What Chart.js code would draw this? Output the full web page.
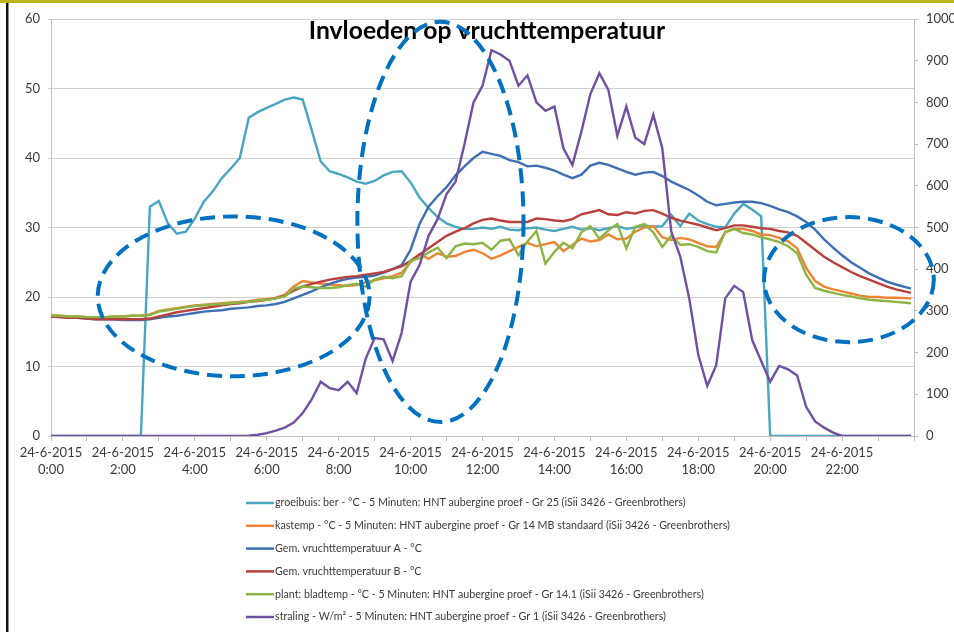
<!DOCTYPE html>
<html>
<head>
<meta charset="utf-8">
<title>Invloeden op vruchttemperatuur</title>
<script src="https://cdn.jsdelivr.net/npm/chart.js@4.4.1/dist/chart.umd.min.js"></script>
<style>
  body { margin: 0; background: #fff; }
  canvas { display: block; }
</style>
</head>
<body>
<canvas id="chart" width="954" height="632"></canvas>
<script>
// time of day in hours, 15 minute steps, last sample 23:55
const times = [];
for (let k = 0; k < 96; k++) times.push(k < 95 ? k * 0.25 : 23 + 55 / 60);

const dateLabel = "24-6-2015";
const hourLabels = ["0:00", "2:00", "4:00", "6:00", "8:00", "10:00", "12:00", "14:00", "16:00", "18:00", "20:00", "22:00"];
const tempTicks = [0, 10, 20, 30, 40, 50, 60];
const radTicks = [0, 100, 200, 300, 400, 500, 600, 700, 800, 900, 1000];

const seriesNames = [
  "groeibuis: ber - °C - 5 Minuten: HNT aubergine proef - Gr 25 (iSii 3426 - Greenbrothers)",
  "kastemp - °C - 5 Minuten: HNT aubergine proef - Gr 14 MB standaard (iSii 3426 - Greenbrothers)",
  "Gem. vruchttemperatuur A - °C",
  "Gem. vruchttemperatuur B - °C",
  "plant: bladtemp - °C - 5 Minuten: HNT aubergine proef - Gr 14.1 (iSii 3426 - Greenbrothers)",
  "straling - W/m² - 5 Minuten: HNT aubergine proef - Gr 1 (iSii 3426 - Greenbrothers)"
];

const groeibuis = [
  0, 0, 0, 0, 0, 0, 0, 0, 0, 0, 0, 33, 33.8, 30.6, 29.1, 29.4,
  31.3, 33.7, 35.2, 37.1, 38.5, 40.0, 45.8, 46.6, 47.2, 47.8, 48.4, 48.7, 48.4, 44.0, 39.5, 38.1,
  37.7, 37.2, 36.6, 36.3, 36.7, 37.5, 38.0, 38.1, 36.5, 34.3, 32.8, 31.5, 30.6, 30.1, 29.8, 29.8,
  30.0, 29.8, 30.1, 29.7, 29.6, 29.9, 30.0, 29.7, 29.5, 29.8, 30.1, 29.7, 29.9, 29.6, 29.9, 30.2,
  29.8, 30.0, 30.3, 30.1, 30.2, 31.8, 30.2, 32.0, 31.0, 30.5, 30.1, 30.0, 32.0, 33.4, 32.6, 31.6,
  0, 0, 0, 0, 0, 0, 0, 0, 0, 0, 0, 0, 0, 0, 0, 0
];
const kastemp = [
  17.4, 17.3, 17.2, 17.2, 17.1, 17.1, 17.1, 17.2, 17.2, 17.3, 17.3, 17.5, 18.0, 18.2, 18.4, 18.6,
  18.8, 18.9, 19.0, 19.1, 19.2, 19.3, 19.4, 19.6, 19.7, 19.9, 20.3, 21.5, 22.3, 22.1, 21.9, 21.8,
  21.7, 21.6, 21.7, 22.1, 22.4, 22.7, 23.0, 23.5, 25.0, 26.2, 25.5, 26.3, 25.8, 25.9, 26.5, 26.8,
  26.3, 25.5, 26.0, 26.6, 27.2, 27.8, 27.3, 27.6, 27.9, 26.6, 27.5, 28.4, 28.0, 28.2, 29.0, 28.3,
  28.4, 29.4, 30.0, 30.2, 28.6, 28.2, 28.5, 28.3, 27.8, 27.3, 27.2, 29.3, 29.8, 29.8, 29.5, 29.0,
  28.9, 28.5, 28.0, 27.0, 24.2, 22.3, 21.5, 21.1, 20.8, 20.5, 20.2, 20.0, 20.0, 19.9, 19.9, 19.8
];
const vruchtA = [
  17.2, 17.1, 17.0, 17.0, 16.9, 16.8, 16.8, 16.8, 16.7, 16.7, 16.7, 16.8, 17.0, 17.2, 17.3, 17.5,
  17.7, 17.9, 18.0, 18.1, 18.3, 18.4, 18.5, 18.7, 18.8, 19.0, 19.3, 19.8, 20.3, 20.8, 21.4, 21.9,
  22.3, 22.6, 22.8, 22.9, 23.1, 23.5, 24.0, 24.6, 26.8, 30.5, 33.0, 34.5, 35.8, 37.5, 38.8, 40.0,
  40.9, 40.6, 40.3, 39.7, 39.4, 38.8, 38.9, 38.6, 38.2, 37.6, 37.1, 37.6, 38.9, 39.3, 39.0, 38.5,
  38.0, 37.6, 37.9, 38.0, 37.4, 36.6, 36.0, 35.4, 34.6, 33.7, 33.2, 33.4, 33.6, 33.7, 33.7, 33.5,
  33.1, 32.6, 32.2, 31.6, 30.8, 29.7, 28.3, 27.1, 26.0, 25.0, 24.2, 23.4, 22.8, 22.2, 21.8, 21.2
];
const vruchtB = [
  17.2, 17.1, 17.0, 17.0, 16.9, 16.8, 16.8, 16.8, 16.8, 16.8, 16.8, 16.9, 17.2, 17.5, 17.8, 18.0,
  18.2, 18.4, 18.6, 18.8, 19.0, 19.1, 19.3, 19.4, 19.6, 19.8, 20.2, 20.9, 21.5, 21.9, 22.2, 22.5,
  22.7, 22.9, 23.0, 23.2, 23.4, 23.6, 24.0, 24.4, 25.2, 26.1, 27.0, 27.9, 28.8, 29.4, 29.9, 30.6,
  31.1, 31.3, 31.0, 30.8, 30.8, 30.8, 31.3, 31.2, 31.0, 30.9, 31.2, 31.9, 32.2, 32.5, 31.9, 31.8,
  32.2, 32.0, 32.4, 32.5, 32.0, 31.4, 31.0, 30.7, 30.4, 30.0, 29.6, 29.9, 30.3, 30.3, 30.1, 29.9,
  29.8, 29.5, 29.3, 28.8, 27.8, 26.8, 25.8, 25.0, 24.3, 23.6, 23.0, 22.5, 22.0, 21.5, 21.1, 20.6
];
const bladtemp = [
  17.3, 17.3, 17.2, 17.2, 17.1, 17.1, 17.1, 17.2, 17.2, 17.3, 17.3, 17.4, 17.9, 18.1, 18.3, 18.5,
  18.7, 18.8, 18.9, 19.0, 19.1, 19.2, 19.3, 19.5, 19.6, 19.8, 20.1, 21.2, 21.5, 21.4, 21.3, 21.3,
  21.4, 21.7, 21.9, 21.5, 22.5, 22.9, 22.7, 23.0, 25.2, 25.6, 26.4, 27.1, 25.6, 27.3, 27.7, 27.6,
  27.8, 26.8, 28.1, 28.3, 26.0, 28.0, 29.5, 24.8, 26.5, 27.8, 27.0, 29.3, 30.2, 28.4, 29.6, 30.5,
  27.0, 30.1, 30.5, 29.3, 27.2, 28.8, 27.5, 27.6, 27.2, 26.6, 26.4, 29.4, 29.8, 29.2, 29.0, 28.6,
  28.3, 27.9, 27.3, 26.3, 23.2, 21.3, 20.9, 20.6, 20.3, 20.1, 19.8, 19.6, 19.5, 19.4, 19.3, 19.1
];
const straling = [
  0, 0, 0, 0, 0, 0, 0, 0, 0, 0, 0, 0, 0, 0, 0, 0,
  0, 0, 0, 0, 0, 0, 1, 3, 7, 13, 20, 32, 55, 88, 130, 115,
  110, 130, 103, 185, 235, 232, 180, 247, 370, 410, 480, 520, 580, 610, 700, 800,
  840, 925, 915, 900, 840, 865, 800, 780, 790, 690, 650, 730, 820, 870, 830, 720,
  790, 715, 700, 770, 690, 490, 430, 330, 195, 120, 170, 330, 360, 345, 230, 180,
  130, 168, 160, 145, 70, 35, 20, 8, 0, 0, 0, 0, 0, 0, 0, 0
];

const seriesValues = [groeibuis, kastemp, vruchtA, vruchtB, bladtemp, straling];
const seriesColors = ["#4aa5c1", "#ee8434", "#3f6fb3", "#b9403c", "#8bb443", "#7050a0"];
const seriesAxis = ["y", "y", "y", "y", "y", "y1"];

// dashed ellipses: centre and radii in data units (hours, °C)
const ellipses = [
  { h: 5.08, t: 20.1, rh: 3.78, rt: 11.5 },
  { h: 10.83, t: 30.8, rh: 2.31, rt: 28.8 },
  { h: 22.19, t: 22.5, rh: 2.36, rt: 9.0 }
];

const txt = "#3a3a3a";
const font = "Lato, 'Open Sans', sans-serif";

const pagePlugin = {
  id: "page",
  beforeDraw(chart) {
    const ctx = chart.ctx;
    ctx.save();
    ctx.fillStyle = "#fff";
    ctx.fillRect(0, 0, chart.width, chart.height);
    ctx.fillStyle = "#bdb41e";
    ctx.fillRect(0, 0, chart.width, 3);
    ctx.fillStyle = "#111";
    ctx.fillRect(6, 3, 2.5, chart.height - 3);
    ctx.restore();
  },
  afterDraw(chart) {
    const ctx = chart.ctx;
    const xs = chart.scales.x, ys = chart.scales.y;
    ctx.save();
    // title
    ctx.fillStyle = "#000";
    ctx.font = "bold 22px " + font;
    const title = "Invloeden op vruchttemperatuur";
    const w = ctx.measureText(title).width;
    const size = 22 * 357 / w;
    ctx.font = "bold " + size.toFixed(1) + "px " + font;
    ctx.textAlign = "center";
    ctx.textBaseline = "alphabetic";
    ctx.fillText(title, 487, 39);

    // dashed ellipses
    ctx.strokeStyle = "#0070c0";
    ctx.lineWidth = 4;
    ctx.setLineDash([15, 8]);
    ellipses.forEach(e => {
      const cx = xs.getPixelForValue(e.h);
      const cy = ys.getPixelForValue(e.t);
      const rx = Math.abs(xs.getPixelForValue(e.h + e.rh) - cx);
      const ry = Math.abs(ys.getPixelForValue(e.t + e.rt) - cy);
      ctx.beginPath();
      ctx.ellipse(cx, cy, rx, ry, 0, 0, Math.PI * 2);
      ctx.stroke();
    });
    ctx.setLineDash([]);

    // legend, one item per row
    ctx.font = "11px " + font;
    const longest = ctx.measureText(seriesNames[1]).width;
    const lsize = 11 * 455 / longest;
    ctx.font = lsize.toFixed(2) + "px " + font;
    ctx.textAlign = "left";
    ctx.textBaseline = "middle";
    chart.data.datasets.forEach((ds, i) => {
      const y = 503 + i * 22.8;
      ctx.strokeStyle = ds.borderColor;
      ctx.lineWidth = 2.5;
      ctx.beginPath();
      ctx.moveTo(246, y);
      ctx.lineTo(274, y);
      ctx.stroke();
      ctx.fillStyle = txt;
      ctx.fillText(ds.label, 275, y);
    });
    ctx.restore();
  }
};

new Chart(document.getElementById("chart"), {
  type: "line",
  data: {
    datasets: seriesValues.map((vals, i) => ({
      label: seriesNames[i],
      data: times.map((t, k) => ({ x: t, y: vals[k] })),
      borderColor: seriesColors[i],
      backgroundColor: seriesColors[i],
      borderWidth: 2.4,
      pointRadius: 0,
      tension: 0,
      yAxisID: seriesAxis[i],
      order: 6 - i
    }))
  },
  options: {
    responsive: false,
    animation: false,
    layout: { padding: { top: 19, left: 0, right: 0, bottom: 0 } },
    plugins: {
      legend: { display: false },
      title: { display: false },
      tooltip: { enabled: false }
    },
    scales: {
      x: {
        type: "linear",
        min: 0,
        max: 24,
        afterFit: s => { s.height = 196; },
        border: { color: "#bfbfbf", width: 1 },
        grid: { drawOnChartArea: false, color: "#bfbfbf", tickLength: 5 },
        ticks: {
          stepSize: 1,
          autoSkip: false,
          maxRotation: 0,
          padding: 3,
          color: txt,
          font: { family: font, size: 13, lineHeight: 1.3 },
          callback: v => (v % 2 === 0 && v < 24) ? [dateLabel, hourLabels[v / 2]] : ""
        }
      },
      y: {
        position: "left",
        min: tempTicks[0],
        max: tempTicks[tempTicks.length - 1],
        afterFit: s => { s.width = 51; },
        afterBuildTicks: s => { s.ticks = tempTicks.map(v => ({ value: v })); },
        border: { color: "#bfbfbf", width: 1 },
        grid: { color: "#cfcfcf", lineWidth: 1, tickLength: 3 },
        ticks: { padding: 8, color: txt, font: { family: font, size: 13 }, callback: v => String(v) }
      },
      y1: {
        position: "right",
        min: radTicks[0],
        max: radTicks[radTicks.length - 1],
        afterFit: s => { s.width = 40; },
        afterBuildTicks: s => { s.ticks = radTicks.map(v => ({ value: v })); },
        border: { color: "#bfbfbf", width: 1 },
        grid: { drawOnChartArea: false, color: "#bfbfbf", tickLength: 4 },
        ticks: { padding: 8, color: txt, font: { family: font, size: 13 }, callback: v => String(v) }
      }
    }
  },
  plugins: [pagePlugin]
});
</script>
</body>
</html>
